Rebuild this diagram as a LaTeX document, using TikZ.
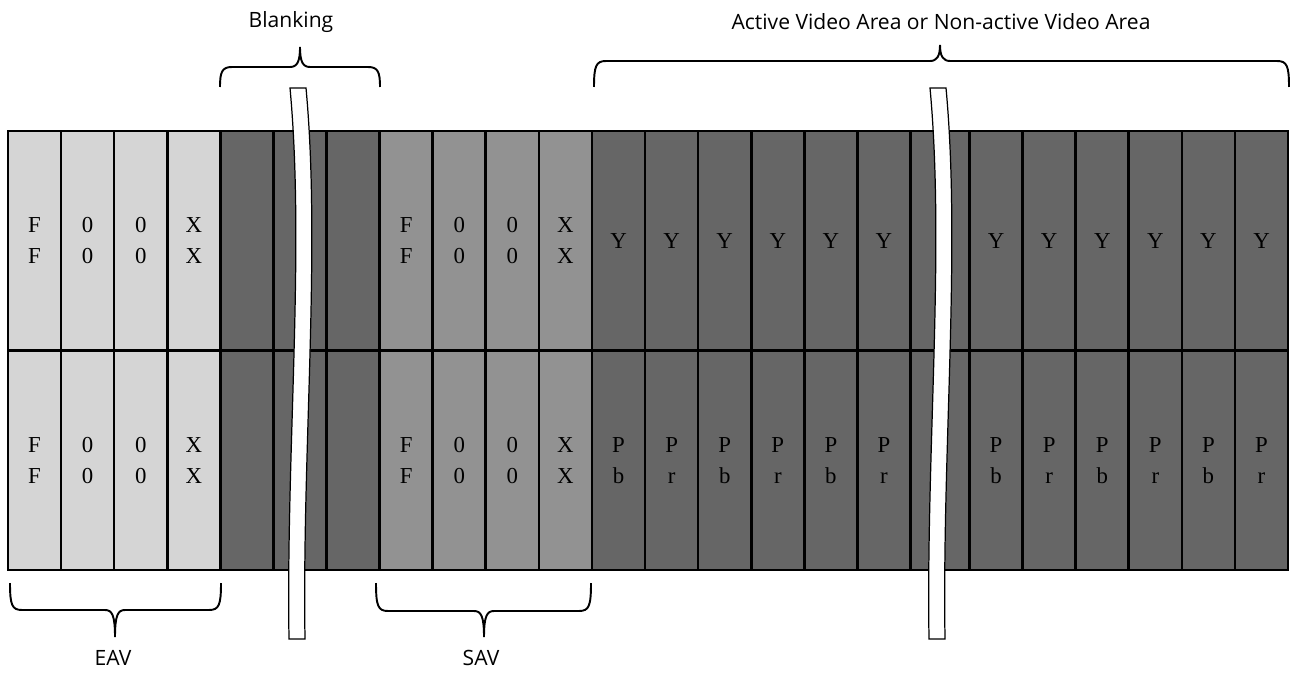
\documentclass[tikz,border=0pt]{standalone}
\usepackage{fontspec}
\setmainfont{Liberation Serif}
\newfontfamily\labelfont{Open Sans}
\usetikzlibrary{positioning}
\definecolor{eavgray}{HTML}{D5D5D5}
\definecolor{savgray}{HTML}{929292}
\definecolor{datagray}{HTML}{666666}
\begin{document}
\begin{tikzpicture}[x=0.02cm, y=-0.02cm,
  cell/.style={draw, line width=1.5pt, outer sep=0pt, inner sep=0pt, minimum width=1.062cm, minimum height=4.39cm, align=center, font=\fontsize{13}{17.6}\selectfont, text=black},
  eav/.style={cell, fill=eavgray},
  sav/.style={cell, fill=savgray},
  dat/.style={cell, fill=datagray},
  gapcell/.style={dat, minimum width=1.18cm},
  strip/.style={draw, fill=white, line width=0.7pt},
  bracket/.style={draw, line width=1.1pt},
  lbl/.style={font=\labelfont\fontsize{12}{14}\selectfont}]
\useasboundingbox (0,0) rectangle (1290,675);
% upper row
\node[eav, anchor=north west] (y1) at (8,131) {F\\F};
\node[eav, right=0pt of y1] (y2) {0\\0};
\node[eav, right=0pt of y2] (y3) {0\\0};
\node[eav, right=0pt of y3] (y4) {X\\X};
\node[dat, right=0pt of y4] (y5) {};
\node[dat, right=0pt of y5] (y6) {};
\node[dat, right=0pt of y6] (y7) {};
\node[sav, right=0pt of y7] (y8) {F\\F};
\node[sav, right=0pt of y8] (y9) {0\\0};
\node[sav, right=0pt of y9] (y10) {0\\0};
\node[sav, right=0pt of y10] (y11) {X\\X};
\node[dat, right=0pt of y11] (y12) {Y};
\node[dat, right=0pt of y12] (y13) {Y};
\node[dat, right=0pt of y13] (y14) {Y};
\node[dat, right=0pt of y14] (y15) {Y};
\node[dat, right=0pt of y15] (y16) {Y};
\node[dat, right=0pt of y16] (y17) {Y};
\node[gapcell, right=0pt of y17] (y18) {};
\node[dat, right=0pt of y18] (y19) {Y};
\node[dat, right=0pt of y19] (y20) {Y};
\node[dat, right=0pt of y20] (y21) {Y};
\node[dat, right=0pt of y21] (y22) {Y};
\node[dat, right=0pt of y22] (y23) {Y};
\node[dat, right=0pt of y23] (y24) {Y};
% lower row
\node[eav, below=0pt of y1] (c1) {F\\F};
\node[eav, below=0pt of y2] (c2) {0\\0};
\node[eav, below=0pt of y3] (c3) {0\\0};
\node[eav, below=0pt of y4] (c4) {X\\X};
\node[dat, below=0pt of y5] (c5) {};
\node[dat, below=0pt of y6] (c6) {};
\node[dat, below=0pt of y7] (c7) {};
\node[sav, below=0pt of y8] (c8) {F\\F};
\node[sav, below=0pt of y9] (c9) {0\\0};
\node[sav, below=0pt of y10] (c10) {0\\0};
\node[sav, below=0pt of y11] (c11) {X\\X};
\node[dat, below=0pt of y12] (c12) {P\\b};
\node[dat, below=0pt of y13] (c13) {P\\r};
\node[dat, below=0pt of y14] (c14) {P\\b};
\node[dat, below=0pt of y15] (c15) {P\\r};
\node[dat, below=0pt of y16] (c16) {P\\b};
\node[dat, below=0pt of y17] (c17) {P\\r};
\node[gapcell, below=0pt of y18] (c18) {};
\node[dat, below=0pt of y19] (c19) {P\\b};
\node[dat, below=0pt of y20] (c20) {P\\r};
\node[dat, below=0pt of y21] (c21) {P\\b};
\node[dat, below=0pt of y22] (c22) {P\\r};
\node[dat, below=0pt of y23] (c23) {P\\b};
\node[dat, below=0pt of y24] (c24) {P\\r};
% break strips
\draw[strip] (290,88) .. controls (305,250) and (286,450) .. (289,639) -- (305,639) .. controls (302,450) and (321,250) .. (306,88) -- cycle;
\draw[strip] (930,88) .. controls (945,250) and (926,450) .. (929,639) -- (945,639) .. controls (942,450) and (961,250) .. (946,88) -- cycle;
% braces
\draw[bracket] (220,87) .. controls (220,72) and (222,67) .. (232,67) -- (290,67) .. controls (297,67) and (300,62) .. (300,47) .. controls (300,62) and (303,67) .. (310,67) -- (368,67) .. controls (378,67) and (380,72) .. (380,87);
\draw[bracket] (594,87) .. controls (594,66) and (596,61) .. (606,61) -- (930,61) .. controls (937,61) and (940,56) .. (940,45) .. controls (940,56) and (943,61) .. (950,61) -- (1277,61) .. controls (1287,61) and (1289,66) .. (1289,87);
\draw[bracket] (10,583) .. controls (10,605) and (12,610) .. (22,610) -- (105,610) .. controls (112,610) and (115,615) .. (115,637) .. controls (115,615) and (118,610) .. (125,610) -- (209,610) .. controls (219,610) and (221,605) .. (221,583);
\draw[bracket] (376,583) .. controls (376,606) and (378,611) .. (388,611) -- (474,611) .. controls (481,611) and (484,616) .. (484,637) .. controls (484,616) and (487,611) .. (494,611) -- (579,611) .. controls (589,611) and (591,606) .. (591,583);
% labels
\node[lbl] (blanking) at (291,22) {Blanking};
\node[lbl] (active) at (941,22) {Active Video Area or Non-active Video Area};
\node[lbl] (eavlbl) at (113,658) {EAV};
\node[lbl] (savlbl) at (481,658) {SAV};
\end{tikzpicture}
\end{document}
